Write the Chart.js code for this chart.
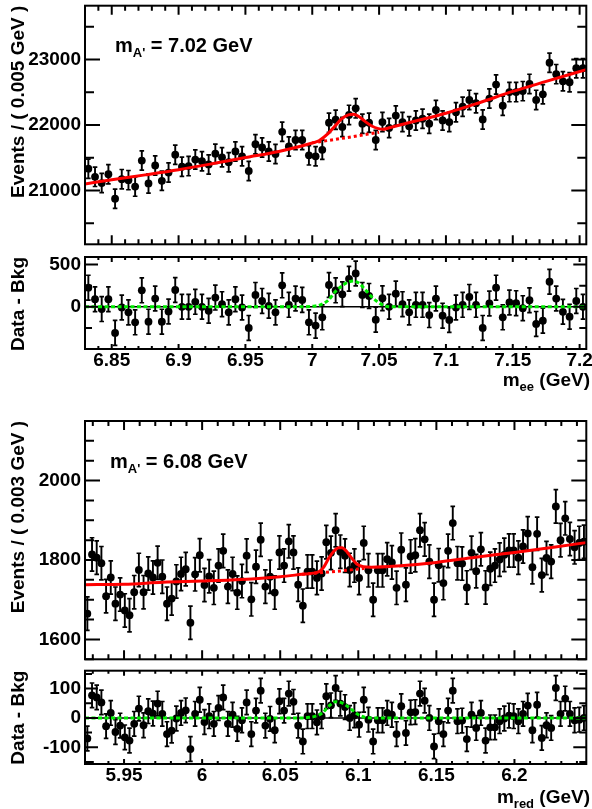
<!DOCTYPE html>
<html><head><meta charset="utf-8">
<script src="https://cdn.jsdelivr.net/npm/chart.js@4.4.1/dist/chart.umd.min.js"></script>
<style>
html,body{margin:0;padding:0;background:#fff;}
body{width:592px;height:809px;position:relative;overflow:hidden;}
.pane{position:absolute;left:0;width:592px;}
canvas{display:block;}
</style></head><body>
<div class="pane" style="top:0;height:250px"><canvas id="c1" width="592" height="250"></canvas></div>
<div class="pane" style="top:250px;height:142px"><canvas id="c2" width="592" height="142"></canvas></div>
<div class="pane" style="top:392px;height:273px"><canvas id="c3" width="592" height="273"></canvas></div>
<div class="pane" style="top:665px;height:144px"><canvas id="c4" width="592" height="144"></canvas></div>
<script>
// ---------------- Upper plot (m_ee, 0.005 GeV bins) ----------------
const topXRange = [6.83, 7.205];
const topMainYRange = [20180, 23820];
const topResYRange = [-500, 590];
const topX = [6.8325,6.8375,6.8425,6.8475,6.8525,6.8575,6.8625,6.8675,6.8725,6.8775,
 6.8825,6.8875,6.8925,6.8975,6.9025,6.9075,6.9125,6.9175,6.9225,6.9275,
 6.9325,6.9375,6.9425,6.9475,6.9525,6.9575,6.9625,6.9675,6.9725,6.9775,
 6.9825,6.9875,6.9925,6.9975,7.0025,7.0075,7.0125,7.0175,7.0225,7.0275,
 7.0325,7.0375,7.0425,7.0475,7.0525,7.0575,7.0625,7.0675,7.0725,7.0775,
 7.0825,7.0875,7.0925,7.0975,7.1025,7.1075,7.1125,7.1175,7.1225,7.1275,
 7.1325,7.1375,7.1425,7.1475,7.1525,7.1575,7.1625,7.1675,7.1725,7.1775,
 7.1825,7.1875,7.1925,7.1975,7.2025];
const topEvents = [21333,21209,21114,21249,20876,21174,21159,21060,21458,21109,
 21383,21149,21274,21547,21363,21373,21473,21448,21398,21562,
 21507,21433,21597,21522,21299,21706,21657,21597,21557,21896,
 21672,21771,21771,21537,21522,21622,22035,22080,21970,22154,
 22254,22020,22035,21771,22045,21955,22144,22045,21980,22070,
 22095,22020,22229,22070,22045,22194,22279,22383,22333,22085,
 22403,22617,22294,22502,22502,22517,22627,22383,22468,22950,
 22776,22667,22652,22866,22866];
const topResidual = [227,90,-27,90,-309,-8,-66,-184,195,-176,
 98,-176,-55,199,0,0,59,0,-47,109,
 31,-66,90,-8,-250,141,70,12,-66,254,
 23,98,82,-184,-223,-125,258,195,148,332,
 395,141,129,-152,102,0,156,31,-66,23,
 23,-98,98,-105,-156,-8,23,117,23,-250,
 39,227,-125,51,43,-16,78,-203,-164,297,
 98,-59,-117,70,0];
const topErr = 147;
const topFitX = [6.83,6.85,6.875,6.90,6.925,6.95,6.975,7.0,7.005,7.012,7.017,7.022,7.027,7.031,7.0345,7.0395,7.0445,7.0495,7.053,7.057,7.075,7.10,7.125,7.15,7.175,7.205];
const topFitY = [21100,21164,21239,21318,21408,21503,21597,21725,21760,21871,21985,22095,22154,22164,22134,22055,21985,21945,21935,21955,22050,22180,22340,22512,22665,22845];
const topBkgX = [7.0, 7.025, 7.05];
const topBkgY = [21728, 21805, 21890];
const topSigX = [6.83,6.995,7.0,7.006,7.012,7.017,7.022,7.027,7.031,7.0345,7.0395,7.0445,7.0495,7.054,7.06,7.205];
const topSigY = [0,0,5,23,78,176,246,293,305,285,207,117,51,12,0,0];
const topXTicks = [6.85,6.9,6.95,7,7.05,7.1,7.15,7.2];
const topXLabels = ['6.85','6.9','6.95','7','7.05','7.1','7.15','7.2'];
const topYTicks = [21000,22000,23000];
const topYLabels = ['21000','22000','23000'];
const topResYTicks = [0,500];
const topResYLabels = ['0','500'];

// ---------------- Lower plot (m_red, 0.003 GeV bins) ----------------
const botXRange = [5.925, 6.246];
const botMainYRange = [1550, 2150];
const botResYRange = [-157, 161];
const botX = [5.9265,5.9295,5.9325,5.9355,5.9385,5.9415,5.9445,5.9475,5.9505,5.9535,
 5.9565,5.9595,5.9625,5.9655,5.9685,5.9715,5.9745,5.9775,5.9805,5.9835,
 5.9865,5.9895,5.9925,5.9955,5.9985,6.0015,6.0045,6.0075,6.0105,6.0135,
 6.0165,6.0195,6.0225,6.0255,6.0285,6.0315,6.0345,6.0375,6.0405,6.0435,
 6.0465,6.0495,6.0525,6.0555,6.0585,6.0615,6.0645,6.0675,6.0705,6.0735,
 6.0765,6.0795,6.0825,6.0855,6.0885,6.0915,6.0945,6.0975,6.1005,6.1035,
 6.1065,6.1095,6.1125,6.1155,6.1185,6.1215,6.1245,6.1275,6.1305,6.1335,
 6.1365,6.1395,6.1425,6.1455,6.1485,6.1515,6.1545,6.1575,6.1605,6.1635,
 6.1665,6.1695,6.1725,6.1755,6.1785,6.1815,6.1845,6.1875,6.1905,6.1935,
 6.1965,6.1995,6.2025,6.2055,6.2085,6.2115,6.2145,6.2175,6.2205,6.2235,
 6.2265,6.2295,6.2325,6.2355,6.2385,6.2415,6.2445];
const botEvents = [1665,1814,1806,1792,1709,1756,1690,1713,1673,1661,
 1719,1775,1719,1766,1756,1793,1758,1690,1703,1746,
 1765,1777,1642,1764,1812,1737,1759,1730,1786,1823,
 1733,1765,1718,1747,1811,1701,1783,1851,1733,1758,
 1718,1819,1786,1847,1819,1738,1685,1771,1771,1755,
 1766,1845,1818,1875,1821,1811,1775,1786,1755,1843,
 1774,1700,1774,1774,1802,1794,1730,1826,1738,1809,
 1812,1875,1852,1796,1700,1787,1742,1823,1893,1792,
 1791,1731,1818,1772,1827,1731,1778,1786,1801,1813,
 1824,1824,1806,1834,1867,1782,1866,1762,1805,1796,
 1935,1850,1905,1853,1832,1843,1846];
const botResidual = [-70,77,70,53,-28,17,-48,-26,-66,-77,
 -20,32,-25,23,15,49,14,-55,-43,-2,
 17,26,-106,14,62,-14,6,-20,34,70,
 -20,11,-37,-8,53,-55,25,93,-26,-3,
 -42,57,25,83,55,-26,-80,6,6,-15,
 6,74,43,102,49,37,0,9,-23,62,
 -6,-80,-8,-8,17,11,-55,40,-51,19,
 20,83,59,0,-97,-11,-55,25,93,-11,
 -9,-72,11,-34,17,-77,-32,-32,-11,-2,
 8,6,-11,14,42,-42,45,-68,-25,-34,
 102,14,66,14,-8,-6,0];
const botErr = 42;
const botFitX = [5.925,5.95,5.975,6.0,6.025,6.05,6.064,6.071,6.075,6.078,6.081,6.0843,6.0874,6.0896,6.0927,6.0959,6.099,6.1033,6.1085,6.125,6.15,6.175,6.2,6.225,6.246];
const botFitY = [1738,1739,1744,1747,1751,1758,1764,1767,1771,1783,1804,1822,1831,1831,1821,1804,1790,1783,1782,1785,1794,1807,1819,1832,1844];
const botBkgX = [6.064, 6.085, 6.104];
const botBkgY = [1764, 1771, 1779];
const botSigX = [5.925,6.064,6.0685,6.0727,6.0769,6.0811,6.0853,6.0885,6.0917,6.0959,6.1001,6.1043,6.1085,6.246];
const botSigY = [0,0,2,6,17,40,55,53,45,28,11,2,0,0];
const botXTicks = [5.95,6,6.05,6.1,6.15,6.2];
const botXLabels = ['5.95','6','6.05','6.1','6.15','6.2'];
const botYTicks = [1600,1800,2000];
const botYLabels = ['1600','1800','2000'];
const botResYTicks = [-100,0,100];
const botResYLabels = ['-100','0','100'];

// ---------------- helpers ----------------
const FAM = '"Liberation Sans", Arial, Helvetica, sans-serif';
Chart.defaults.font.family = FAM;
Chart.defaults.font.size = 18;
Chart.defaults.font.weight = 'bold';
Chart.defaults.color = '#000';

const pts = (xs, ys) => xs.map((x, i) => ({x: x, y: ys[i]}));
const errBars = (xs, ys, e) => xs.map((x, i) => ({x: x, y: [ys[i] - e, ys[i] + e]}));
const caps = (xs, ys, e) => {
  const out = [];
  xs.forEach((x, i) => { out.push({x: x, y: ys[i] - e}); out.push({x: x, y: ys[i] + e}); });
  return out;
};

function drawRich(ctx, t) {
  let w = 0;
  t.parts.forEach(p => { ctx.font = 'bold ' + p.size + 'px ' + FAM; p.w = ctx.measureText(p.text).width; w += p.w; });
  let cx = t.align === 'right' ? t.x - w : t.x;
  ctx.fillStyle = '#000';
  ctx.textAlign = 'left';
  ctx.textBaseline = 'alphabetic';
  t.parts.forEach(p => {
    ctx.font = 'bold ' + p.size + 'px ' + FAM;
    ctx.fillText(p.text, cx, t.y + (p.dy || 0));
    cx += p.w;
  });
}

const rootFrame = {
  id: 'rootFrame',
  afterDraw(chart, args, o) {
    const ctx = chart.ctx, a = chart.chartArea, x = chart.scales.x, y = chart.scales.y;
    ctx.save();
    ctx.strokeStyle = '#000';
    ctx.lineWidth = 2;
    ctx.beginPath();
    const xt = (v, len) => {
      const px = x.getPixelForValue(v);
      ctx.moveTo(px, a.bottom); ctx.lineTo(px, a.bottom - len);
      if (o.xTop) { ctx.moveTo(px, a.top); ctx.lineTo(px, a.top + len); }
    };
    const yt = (v, len) => {
      const py = y.getPixelForValue(v);
      ctx.moveTo(a.left, py); ctx.lineTo(a.left + len, py);
      ctx.moveTo(a.right, py); ctx.lineTo(a.right - len, py);
    };
    for (let n = Math.ceil(x.min / o.xMinorStep - 1e-6); n * o.xMinorStep <= x.max + 1e-9; n++) xt(n * o.xMinorStep, o.xMinorLen);
    o.xMajor.forEach(v => xt(v, o.xMajorLen));
    for (let n = Math.ceil(y.min / o.yMinorStep - 1e-6); n * o.yMinorStep <= y.max + 1e-9; n++) yt(n * o.yMinorStep, o.yMinorLen);
    o.yMajor.forEach(v => yt(v, o.yMajorLen));
    ctx.stroke();
    ctx.strokeRect(a.left, a.top, a.right - a.left, a.bottom - a.top);
    (o.texts || []).forEach(t => drawRich(ctx, t));
    ctx.restore();
  }
};

function makePanel(id, cfg) {
  return new Chart(document.getElementById(id), {
    type: 'scatter',
    data: {datasets: cfg.datasets},
    options: {
      responsive: false, animation: false, events: [],
      layout: {padding: {top: cfg.padTop, right: 2, left: 0, bottom: 0}},
      plugins: {legend: {display: false}, tooltip: {enabled: false}, rootFrame: cfg.frame},
      scales: {
        x: {
          type: 'linear', min: cfg.xRange[0], max: cfg.xRange[1], offset: false,
          grid: {display: false, drawTicks: false}, border: {display: false},
          afterBuildTicks: s => { s.ticks = cfg.xTicks.map(v => ({value: v})); },
          ticks: {display: !!cfg.xLabels, autoSkip: false, maxRotation: 0, minRotation: 0,
                  padding: cfg.xPad || 0, font: {size: 19, weight: 'bold'},
                  callback: (v, i) => cfg.xLabels ? cfg.xLabels[i] : ''},
          afterFit: s => { s.height = cfg.xHeight; s.paddingLeft = 0; s.paddingRight = 0; s.paddingTop = 0; s.paddingBottom = 0; }
        },
        y: {
          type: 'linear', min: cfg.yRange[0], max: cfg.yRange[1],
          grid: {display: false, drawTicks: false}, border: {display: false},
          afterBuildTicks: s => { s.ticks = cfg.yTicks.map(v => ({value: v})); },
          ticks: {autoSkip: false, padding: 4, font: {size: 19, weight: 'bold'},
                  callback: (v, i) => cfg.yLabels[i]},
          title: {display: true, text: cfg.yTitle, align: 'end', padding: {top: 7, bottom: 0},
                  font: {size: 19, weight: 'bold'}},
          afterFit: s => { s.width = 85; s.paddingLeft = 0; s.paddingRight = 0; s.paddingTop = 0; s.paddingBottom = 0; }
        }
      }
    },
    plugins: [rootFrame]
  });
}

const RED = '#ff0000', GREEN = 'rgb(0,235,0)';
function mainSets(xs, ys, err, fx, fy, bx, by) {
  return [
    {type: 'line', data: pts(fx, fy), borderColor: RED, borderWidth: 3, pointRadius: 0, fill: false,
     tension: 0.4, cubicInterpolationMode: 'monotone', order: 0},
    {type: 'line', data: pts(bx, by), borderColor: RED, borderWidth: 3, borderDash: [3, 3], pointRadius: 0,
     fill: false, tension: 0.4, cubicInterpolationMode: 'monotone', order: 0},
    {type: 'scatter', data: pts(xs, ys), pointRadius: 3.9, pointBackgroundColor: '#000', pointBorderWidth: 0, order: 1},
    {type: 'scatter', data: caps(xs, ys, err), pointStyle: 'line', pointRadius: 2.3,
     pointBorderColor: '#000', borderColor: '#000', pointBorderWidth: 1.7, order: 2},
    {type: 'bar', data: errBars(xs, ys, err), backgroundColor: '#000', borderWidth: 0,
     barThickness: 1.9, inflateAmount: 0, order: 3}
  ];
}
function resSets(xs, ys, err, sx, sy, xr) {
  return [
    {type: 'line', data: pts(sx, sy), borderColor: GREEN, borderWidth: 3, borderDash: [4, 2.5], pointRadius: 0,
     fill: false, tension: 0.4, cubicInterpolationMode: 'monotone', order: 0},
    {type: 'scatter', data: pts(xs, ys), pointRadius: 3.9, pointBackgroundColor: '#000', pointBorderWidth: 0, order: 1},
    {type: 'scatter', data: caps(xs, ys, err), pointStyle: 'line', pointRadius: 2.3,
     pointBorderColor: '#000', borderColor: '#000', pointBorderWidth: 1.7, order: 2},
    {type: 'bar', data: errBars(xs, ys, err), backgroundColor: '#000', borderWidth: 0,
     barThickness: 1.9, inflateAmount: 0, order: 3},
    {type: 'line', data: pts(xr, [0, 0]), borderColor: '#000', borderWidth: 1.5, pointRadius: 0, fill: false, order: 10}
  ];
}

makePanel('c1', {
  padTop: 5, xHeight: 2, xRange: topXRange, yRange: topMainYRange,
  xTicks: topXTicks, xLabels: null, yTicks: topYTicks, yLabels: topYLabels,
  yTitle: 'Events / ( 0.005 GeV )',
  datasets: mainSets(topX, topEvents, topErr, topFitX, topFitY, topBkgX, topBkgY),
  frame: {xMajor: topXTicks, xMinorStep: 0.01, xMajorLen: 9, xMinorLen: 5, xTop: true,
          yMajor: topYTicks, yMinorStep: 500, yMajorLen: 15, yMinorLen: 9,
          texts: [{x: 115, y: 52, parts: [{text: 'm', size: 20}, {text: "A'", size: 13, dy: 5}, {text: ' = 7.02 GeV', size: 20}]}]}
});
makePanel('c2', {
  padTop: 7, xHeight: 43, xPad: 0, xRange: topXRange, yRange: topResYRange,
  xTicks: topXTicks, xLabels: topXLabels, yTicks: topResYTicks, yLabels: topResYLabels,
  yTitle: 'Data - Bkg',
  datasets: resSets(topX, topResidual, topErr, topSigX, topSigY, topXRange),
  frame: {xMajor: topXTicks, xMinorStep: 0.01, xMajorLen: 5, xMinorLen: 3, xTop: true,
          yMajor: topResYTicks, yMinorStep: 250, yMajorLen: 13, yMinorLen: 7,
          texts: [{x: 590, y: 136, align: 'right', parts: [{text: 'm', size: 19}, {text: 'ee', size: 13, dy: 5}, {text: ' (GeV)', size: 19}]}]}
});
makePanel('c3', {
  padTop: 29, xHeight: 2, xRange: botXRange, yRange: botMainYRange,
  xTicks: botXTicks, xLabels: null, yTicks: botYTicks, yLabels: botYLabels,
  yTitle: 'Events / ( 0.003 GeV )',
  datasets: mainSets(botX, botEvents, botErr, botFitX, botFitY, botBkgX, botBkgY),
  frame: {xMajor: botXTicks, xMinorStep: 0.01, xMajorLen: 9, xMinorLen: 5, xTop: true,
          yMajor: botYTicks, yMinorStep: 50, yMajorLen: 15, yMinorLen: 9,
          texts: [{x: 110, y: 76, parts: [{text: 'm', size: 20}, {text: "A'", size: 13, dy: 5}, {text: ' = 6.08 GeV', size: 20}]}]}
});
makePanel('c4', {
  padTop: 5, xHeight: 45, xPad: 0, xRange: botXRange, yRange: botResYRange,
  xTicks: botXTicks, xLabels: botXLabels, yTicks: botResYTicks, yLabels: botResYLabels,
  yTitle: 'Data - Bkg',
  datasets: resSets(botX, botResidual, botErr, botSigX, botSigY, botXRange),
  frame: {xMajor: botXTicks, xMinorStep: 0.01, xMajorLen: 5, xMinorLen: 3, xTop: true,
          yMajor: botResYTicks, yMinorStep: 50, yMajorLen: 13, yMinorLen: 7,
          texts: [{x: 590, y: 138, align: 'right', parts: [{text: 'm', size: 19}, {text: 'red', size: 13, dy: 5}, {text: ' (GeV)', size: 19}]}]}
});
</script>
</body></html>
